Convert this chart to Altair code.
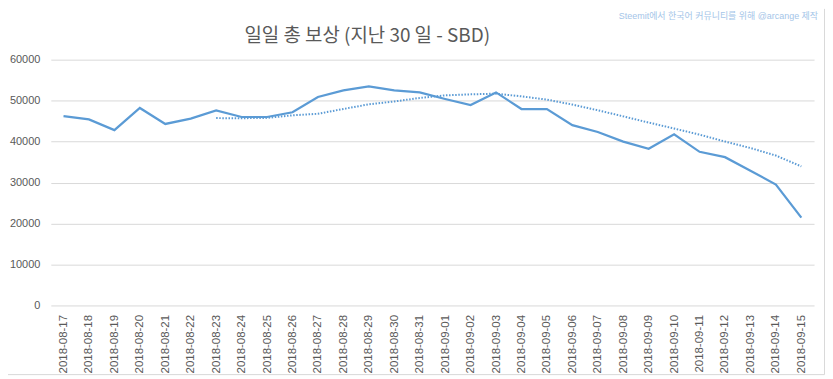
import altair as alt
import pandas as pd

dates = ["2018-08-17", "2018-08-18", "2018-08-19", "2018-08-20", "2018-08-21",
         "2018-08-22", "2018-08-23", "2018-08-24", "2018-08-25", "2018-08-26",
         "2018-08-27", "2018-08-28", "2018-08-29", "2018-08-30", "2018-08-31",
         "2018-09-01", "2018-09-02", "2018-09-03", "2018-09-04", "2018-09-05",
         "2018-09-06", "2018-09-07", "2018-09-08", "2018-09-09", "2018-09-10",
         "2018-09-11", "2018-09-12", "2018-09-13", "2018-09-14", "2018-09-15"]
rewards = [46200, 45400, 42800, 48200, 44300, 45600, 47600, 46000, 46000, 47150,
           50900, 52500, 53500, 52500, 52000, 50400, 48900, 52000, 47950, 47950,
           44000, 42350, 40000, 38250, 41800, 37500, 36200, 32900, 29500, 21450]
trend = [None, None, None, None, None, None, 45730, 45700, 45790, 46410,
         46790, 47960, 49090, 49790, 50650, 51280, 51530, 51690, 51040, 50240,
         49030, 47650, 46160, 44640, 43190, 41690, 40010, 38430, 36590, 33940]
y_ticks = [0, 10000, 20000, 30000, 40000, 50000, 60000]

title_text = "일일 총 보상 (지난 30 일 - SBD)"
credit_text = "Steemit에서 한국어 커뮤니티를 위해 @arcange 제작"

df = pd.DataFrame({"date": dates, "reward": rewards, "trend": trend})

W, H = 767, 247
PAD_L, PAD_T, PAD_R, PAD_B = 43, 51, 11, 70

x_enc = alt.X("date:N", sort=dates,
              scale=alt.Scale(type="point", padding=0.5),
              axis=alt.Axis(title=None, labelAngle=-90, ticks=False, domain=False,
                            grid=False, labelPadding=9, labelFont="Liberation Sans",
                            labelFontSize=11.5, labelColor="#595959"))
y_scale = alt.Scale(domain=[0, 60000], nice=False)

base = alt.Chart(df)

line = base.mark_line(color="#5b9bd5", strokeWidth=2.25).encode(
    x=x_enc,
    y=alt.Y("reward:Q", scale=y_scale,
            axis=alt.Axis(title=None, values=y_ticks, format="d", ticks=False, domain=False,
                          grid=True, gridColor="#d9d9d9", gridWidth=1,
                          labelPadding=11, labelFont="Liberation Sans",
                          labelFontSize=11, labelColor="#595959")),
)

trend_line = base.transform_filter("datum.trend != null").mark_line(
    color="#5b9bd5", strokeWidth=2, strokeDash=[1.5, 1.6]
).encode(
    x=alt.X("date:N", sort=dates, scale=alt.Scale(type="point", padding=0.5)),
    y=alt.Y("trend:Q", scale=y_scale),
)

title = alt.Chart(pd.DataFrame({"t": [title_text]})).mark_text(
    font="Noto Sans CJK KR", fontSize=19, color="#595959", align="center",
    baseline="alphabetic"
).encode(x=alt.value(318), y=alt.value(-18), text="t:N")

credit = alt.Chart(pd.DataFrame({"t": [credit_text]})).mark_text(
    font="Liberation Sans, Noto Sans CJK KR", fontSize=9, color="#a4c5e8", align="right",
    baseline="alphabetic"
).encode(x=alt.value(771), y=alt.value(-41), text="t:N")

border_r = alt.Chart(pd.DataFrame({"a": [0]})).mark_rule(color="#d9d9d9", strokeWidth=1).encode(
    x=alt.value(777.5), y=alt.value(-51), y2=alt.value(316.5))
border_b = alt.Chart(pd.DataFrame({"a": [0]})).mark_rule(color="#d9d9d9", strokeWidth=1).encode(
    x=alt.value(-43), x2=alt.value(777.5), y=alt.value(316.5))

chart = alt.layer(line, trend_line, title, credit, border_r, border_b).properties(
    width=W, height=H,
    autosize=alt.AutoSizeParams(type="none"),
    padding={"left": PAD_L, "top": PAD_T, "right": PAD_R, "bottom": PAD_B},
    background="white",
).configure_view(stroke=None)

chart.save("out.html", embed_options={"renderer": "svg", "actions": False})
